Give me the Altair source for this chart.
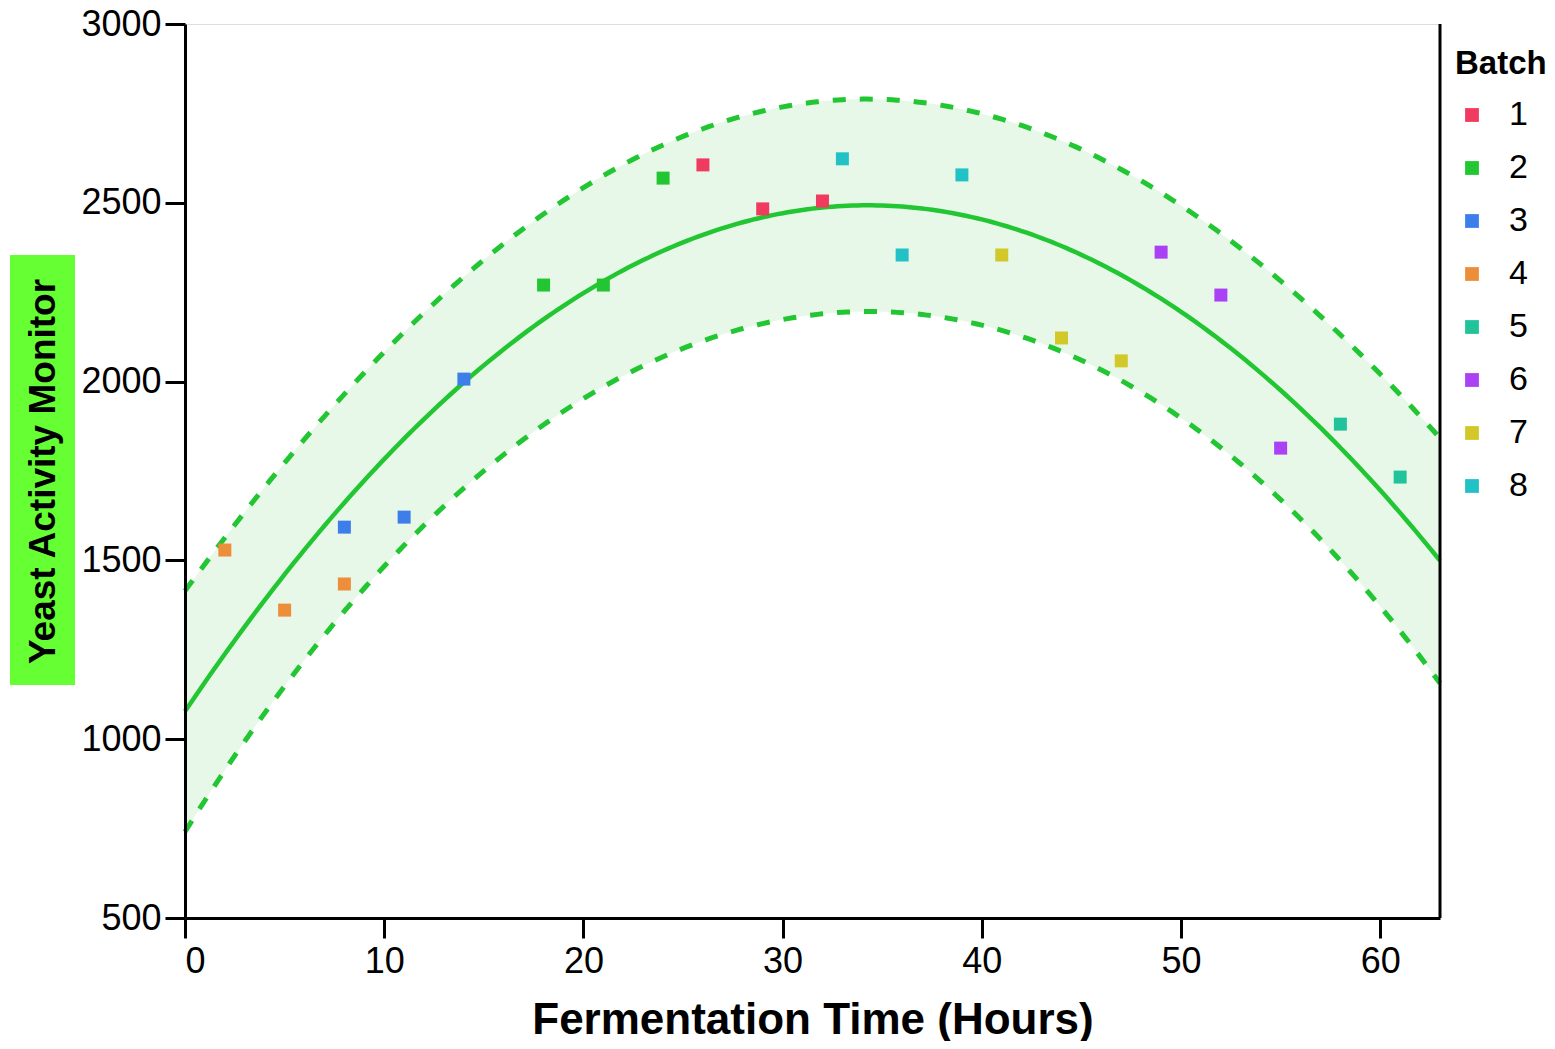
import altair as alt
import numpy as np
import pandas as pd

# ---- data ----
batch = ["4", "4", "4", "3", "3", "3", "2", "2", "2", "1", "1", "1",
         "8", "8", "8", "7", "7", "7", "6", "6", "6", "5", "5"]
hours = [2, 5, 8, 8, 11, 14, 18, 21, 24, 26, 29, 32,
         33, 36, 39, 41, 44, 47, 49, 52, 55, 58, 61]
activity = [1529, 1361, 1434, 1593, 1621, 2007, 2270, 2270, 2569, 2606, 2483, 2505,
            2623, 2354, 2578, 2354, 2122, 2058, 2362, 2242, 1814, 1881, 1733]

batch_levels = ["1", "2", "3", "4", "5", "6", "7", "8"]
batch_colors = ["#F03A5F", "#22C532", "#3D7EEB", "#EC8E3A",
                "#21C49A", "#AA41F5", "#D2C82A", "#22C1C5"]
y_ticks = [500, 1000, 1500, 2000, 2500, 3000]
x_ticks = [0, 10, 20, 30, 40, 50, 60]

pts = pd.DataFrame({"Batch": batch, "Hours": hours, "Activity": activity})

# ---- quadratic fit with 90% prediction band (computed from the points) ----
x = np.array(hours, dtype=float)
y = np.array(activity, dtype=float)
X = np.vstack([np.ones_like(x), x, x ** 2]).T
beta, *_ = np.linalg.lstsq(X, y, rcond=None)
resid = y - X @ beta
dof = len(x) - 3
s2 = resid @ resid / dof
XtX_inv = np.linalg.inv(X.T @ X)
t_val = 1.725  # t(0.95, 20)
grid = np.linspace(0, 63, 253)
G = np.vstack([np.ones_like(grid), grid, grid ** 2]).T
fit = G @ beta
h = np.einsum("ij,jk,ik->i", G, XtX_inv, G)
half = t_val * np.sqrt(s2 * (1 + h))
fitdf = pd.DataFrame({"Hours": grid, "fit": fit, "lo": fit - half, "hi": fit + half})

W, H = 1255, 894
xs = alt.Scale(domain=[0, 63], nice=False, zero=False)
ys = alt.Scale(domain=[500, 3000], nice=False, zero=False)
GREEN = "#22C532"

band = alt.Chart(fitdf).mark_area(color="#E8F8E8", opacity=1).encode(
    x=alt.X("Hours:Q", scale=xs,
            axis=alt.Axis(values=x_ticks, format="d", title="Fermentation Time (Hours)", grid=False,
                          tickSize=20, tickWidth=3, domainWidth=3, domainColor="black",
                          tickColor="black", labelFontSize=36, labelColor="black",
                          labelFont="Liberation Sans", labelPadding=6,
                          titleFont="Liberation Sans", titleFontSize=44, titleFontWeight="bold",
                          titleColor="black", titleY=115, titleBaseline="alphabetic",
                          zindex=1)),
    y=alt.Y("lo:Q", scale=ys,
            axis=alt.Axis(values=y_ticks, format="d", title="Yeast Activity Monitor", grid=False,
                          tickSize=20, tickWidth=3, domainWidth=3, domainColor="black",
                          tickColor="black", labelFontSize=36, labelColor="black",
                          labelFont="Liberation Sans", labelPadding=4,
                          titleFont="Liberation Sans", titleFontSize=37, titleFontWeight="bold",
                          titleColor="black", titleX=-142, titleY=447,
                          titleBaseline="middle", zindex=1)),
    y2="hi:Q",
)

hi_line = alt.Chart(fitdf).mark_line(color=GREEN, strokeWidth=5, strokeDash=[13, 14]).encode(
    x=alt.X("Hours:Q", scale=xs), y=alt.Y("hi:Q", scale=ys))
lo_line = alt.Chart(fitdf).mark_line(color=GREEN, strokeWidth=5, strokeDash=[13, 14]).encode(
    x=alt.X("Hours:Q", scale=xs), y=alt.Y("lo:Q", scale=ys))
fit_line = alt.Chart(fitdf).mark_line(color=GREEN, strokeWidth=4.5).encode(
    x=alt.X("Hours:Q", scale=xs), y=alt.Y("fit:Q", scale=ys))

points = alt.Chart(pts).mark_square(size=169, opacity=1).encode(
    x=alt.X("Hours:Q", scale=xs),
    y=alt.Y("Activity:Q", scale=ys),
    color=alt.Color("Batch:N", scale=alt.Scale(domain=batch_levels, range=batch_colors),
                    legend=alt.Legend(title="Batch", orient="none", legendX=1270, legendY=24,
                                      titleFontSize=33, titleFontWeight="bold",
                                      titleFont="Liberation Sans", titleColor="black",
                                      labelFontSize=34, labelFont="Liberation Sans",
                                      labelColor="black", symbolType="square",
                                      symbolSize=190, symbolOffset=0, labelOffset=20,
                                      rowPadding=19, titlePadding=17, padding=0)),
)

right_rule = alt.Chart(pd.DataFrame({"x": [63]})).mark_rule(color="black", strokeWidth=3).encode(
    x=alt.X("x:Q", scale=xs), y=alt.value(0), y2=alt.value(H))

title_bg = alt.Chart(pd.DataFrame({"a": [0]})).mark_rect(color="#66FF33", clip=False).encode(
    x=alt.value(-175), x2=alt.value(-110), y=alt.value(231), y2=alt.value(661))

chart = alt.layer(title_bg, band, hi_line, lo_line, fit_line, points, right_rule).properties(
    width=W, height=H,
    autosize=alt.AutoSizeParams(type="none"),
    padding={"left": 177, "top": 16, "right": 107, "bottom": 123},
).configure_view(stroke="transparent", strokeWidth=0).configure(background="white")

chart.save("out.html", embed_options={"renderer": "svg", "actions": False})
